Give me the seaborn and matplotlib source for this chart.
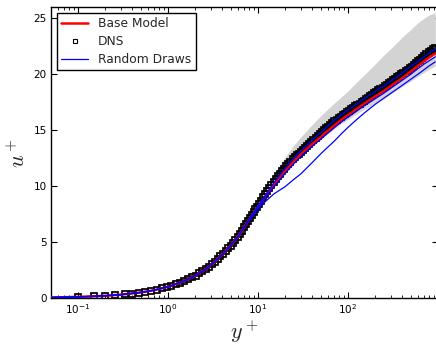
import numpy as np
import pandas as pd
import matplotlib
matplotlib.use("Agg")
import matplotlib.pyplot as plt
import seaborn as sns
from matplotlib.lines import Line2D
from matplotlib.ticker import LogLocator, FixedLocator, NullFormatter

# ---------------- data ----------------
dns_y = [0.10, 0.15, 0.20, 0.26, 0.33, 0.40, 0.48, 0.56, 0.65, 0.75, 0.86, 0.97,
         1.09, 1.22, 1.36, 1.51, 1.67, 1.84, 2.02, 2.21, 2.41, 2.62, 2.84, 3.07,
         3.31, 3.56, 3.82, 4.09, 4.37, 4.66, 4.96, 5.27, 5.59, 5.92, 6.26, 6.61,
         6.97, 7.34, 7.72, 8.11, 8.51, 8.92, 9.34, 9.77,
         10.2, 10.8, 11.4, 12.0, 12.7, 13.4, 14.1, 14.9, 15.7, 16.6, 17.5, 18.5,
         19.5, 20.6, 21.7, 22.9, 24.2, 25.5, 26.9, 28.4, 30.0, 31.6, 33.4, 35.2,
         37.1, 39.2, 41.3, 43.6, 46.0, 48.5, 51.2, 54.0, 57.0, 60.1, 63.4, 66.9,
         70.6, 74.5, 78.6, 82.9, 87.5, 92.3, 97.4,
         102.7, 108.4, 114.3, 120.6, 127.2, 134.2, 141.6, 149.4, 157.6, 166.3,
         175.4, 185.0, 195.2, 205.9, 217.2, 229.2, 241.8, 255.0, 269.1, 283.9,
         299.5, 316.0, 333.3, 351.7, 371.0, 391.4, 412.9, 435.6, 459.6, 484.9,
         511.5, 539.7, 569.3, 600.6, 633.7, 668.5, 705.3, 744.1, 785.0, 828.2,
         873.8, 921.8]
dns_u = [0.10, 0.15, 0.20, 0.26, 0.33, 0.40, 0.48, 0.56, 0.65, 0.75, 0.86, 0.97,
         1.09, 1.22, 1.36, 1.51, 1.67, 1.84, 2.01, 2.20, 2.39, 2.59, 2.80, 3.02,
         3.24, 3.48, 3.71, 3.95, 4.19, 4.44, 4.69, 4.94, 5.19, 5.47, 5.75, 6.03,
         6.31, 6.59, 6.86, 7.13, 7.40, 7.66, 7.92, 8.17,
         8.40, 8.70, 8.98, 9.25, 9.54, 9.82, 10.08, 10.35, 10.60, 10.86, 11.10, 11.34,
         11.56, 11.78, 11.98, 12.18, 12.38, 12.56, 12.74, 12.91, 13.08, 13.24, 13.41, 13.57,
         13.75, 13.93, 14.10, 14.28, 14.46, 14.64, 14.82, 14.99, 15.16, 15.32, 15.48, 15.63,
         15.78, 15.93, 16.07, 16.21, 16.35, 16.48, 16.61,
         16.72, 16.85, 16.98, 17.11, 17.24, 17.37, 17.50, 17.63, 17.76, 17.89,
         18.02, 18.15, 18.28, 18.41, 18.54, 18.67, 18.80, 18.93, 19.06, 19.19,
         19.32, 19.45, 19.58, 19.71, 19.84, 19.97, 20.10, 20.24, 20.38, 20.52,
         20.67, 20.82, 20.98, 21.14, 21.30, 21.46, 21.62, 21.78, 21.94, 22.10,
         22.25, 22.38]

model_y = [0.05, 0.07, 0.1, 0.15, 0.2, 0.3, 0.5, 0.7, 1.0, 1.5, 2.0, 2.5, 3.0, 4.0,
           5.0, 6.0, 7.0, 8.0, 9.0, 10, 12, 15, 20, 25, 30, 40, 50, 60, 70, 85,
           100, 125, 150, 200, 250, 300, 400, 500, 600, 700, 800, 934]

_wall = [0.05, 0.07, 0.1, 0.15, 0.2, 0.3, 0.5, 0.7, 1.0, 1.5, 1.99, 2.47, 2.95, 3.87,
         4.72, 5.50, 6.30]

base_u = _wall + [7.05, 7.60, 8.15, 9.05, 10.10, 11.35, 12.20, 12.85, 13.75, 14.40, 14.95,
                  15.40, 15.95, 16.35, 16.90, 17.35, 18.00, 18.50, 18.95, 19.65, 20.25,
                  20.75, 21.15, 21.50, 21.85]

draw1_u = _wall + [7.10, 7.65, 8.25, 9.15, 10.30, 11.60, 12.50, 13.15, 14.10, 14.80, 15.40,
                   15.85, 16.40, 16.80, 17.35, 17.80, 18.45, 18.95, 19.40, 20.10, 20.70,
                   21.15, 21.55, 21.90, 22.25]
draw2_u = _wall + [7.05, 7.58, 8.10, 8.95, 9.95, 11.15, 12.00, 12.65, 13.55, 14.20, 14.75,
                   15.20, 15.75, 16.15, 16.70, 17.15, 17.80, 18.30, 18.75, 19.45, 20.00,
                   20.50, 20.90, 21.20, 21.55]
draw3_u = _wall + [6.95, 7.45, 7.95, 8.60, 9.30, 9.95, 10.60, 11.10, 12.10, 12.90, 13.50,
                   14.00, 14.70, 15.25, 15.95, 16.50, 17.30, 17.85, 18.30, 19.00, 19.55,
                   20.00, 20.40, 20.75, 21.10]

band_low = _wall + [6.95, 7.50, 8.00, 8.85, 9.85, 11.10, 12.00, 12.60, 13.55, 14.20, 14.70,
                    15.10, 15.60, 15.95, 16.45, 16.85, 17.40, 17.85, 18.25, 18.90, 19.40,
                    19.80, 20.15, 20.45, 20.75]
band_high = _wall + [7.15, 7.80, 8.50, 9.70, 11.10, 12.60, 13.65, 14.40, 15.50, 16.30, 16.90,
                     17.40, 18.00, 18.50, 19.30, 19.90, 20.90, 21.70, 22.30, 23.30, 24.00,
                     24.60, 25.00, 25.30, 25.50]

y_ticks = [0, 5, 10, 15, 20, 25]
x_ticks = [0.1, 1, 10, 100]
x_ticklabels = [r"$10^{-1}$", r"$10^{0}$", r"$10^{1}$", r"$10^{2}$"]

# ---------------- styling ----------------
sns.set_style("ticks")
plt.rcParams.update({
    "font.family": ["DejaVu Sans"],
    "xtick.direction": "in",
    "ytick.direction": "in",
    "xtick.top": True,
    "ytick.right": True,
    "axes.linewidth": 1.0,
    "xtick.major.size": 4, "xtick.minor.size": 2,
    "ytick.major.size": 4,
    "xtick.major.width": 0.8, "xtick.minor.width": 0.6,
    "ytick.major.width": 0.8,
    "xtick.color": "black", "ytick.color": "black",
    "axes.edgecolor": "black",
})

fig = plt.figure(figsize=(4.36, 3.45), dpi=100)
ax = fig.add_axes([51 / 436, 47 / 345, 387 / 436, 291 / 345])
ax.set_xscale("log")

ax.fill_between(model_y, band_low, band_high, color="#d3d3d3", lw=0, zorder=1)

sns.lineplot(x=dns_y, y=dns_u, ax=ax, color="black", linestyle="", marker="s",
             markersize=4.2, markerfacecolor="none", markeredgecolor="black",
             markeredgewidth=1.25, sort=False, zorder=2)

sns.lineplot(x=model_y, y=base_u, ax=ax, color="red", lw=1.8, zorder=3)

draws = pd.DataFrame({
    "y": model_y * 3,
    "u": draw1_u + draw2_u + draw3_u,
    "draw": [1] * len(model_y) + [2] * len(model_y) + [3] * len(model_y),
})
sns.lineplot(data=draws, x="y", y="u", units="draw", estimator=None, ax=ax,
             color="blue", lw=0.9, zorder=4)

ax.set_xlim(0.05, 1000)
ax.set_ylim(0, 26)
ax.xaxis.set_major_locator(FixedLocator(x_ticks))
ax.set_xticklabels(x_ticklabels)
ax.xaxis.set_minor_locator(LogLocator(base=10, subs=np.arange(2, 10), numticks=20))
ax.xaxis.set_minor_formatter(NullFormatter())
ax.set_yticks(y_ticks)
ax.tick_params(axis="both", which="major", labelsize=7.5, pad=3)

ax.set_xlabel(r"$y^+$", fontsize=16, math_fontfamily="cm", labelpad=2)
ax.set_ylabel(r"$u^+$", fontsize=16, math_fontfamily="cm", labelpad=3)

handles = [
    Line2D([], [], color="red", lw=1.8),
    Line2D([], [], color="black", linestyle="", marker="s", markersize=2.8,
           markerfacecolor="none", markeredgewidth=0.8),
    Line2D([], [], color="blue", lw=0.9),
]
leg = ax.legend(handles, ["Base Model", "DNS", "Random Draws"], loc="upper left",
                fontsize=8.8, frameon=True, fancybox=False, framealpha=1,
                edgecolor="black", borderpad=0.35, labelspacing=0.4,
                handlelength=2.2, handletextpad=0.8, borderaxespad=0.5,
                numpoints=1)
leg.get_frame().set_linewidth(1.0)

fig.savefig("out.png", dpi=100)
